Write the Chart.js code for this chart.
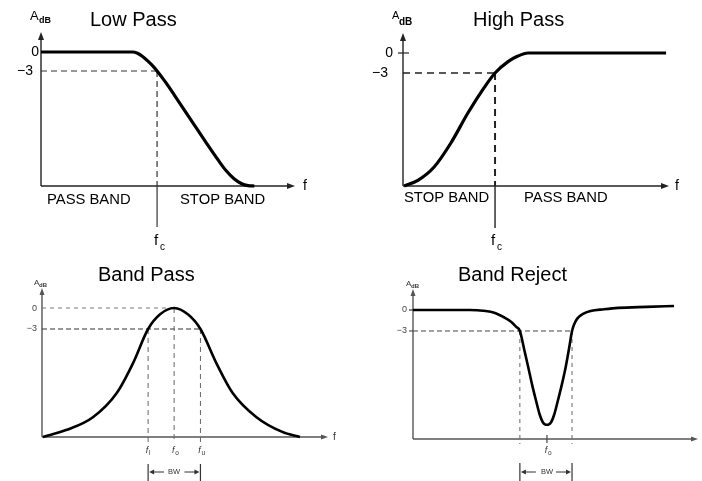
<!DOCTYPE html>
<html>
<head>
<meta charset="utf-8">
<script src="https://cdn.jsdelivr.net/npm/chart.js@4.4.0/dist/chart.umd.min.js"></script>
<style>
  html, body { margin: 0; padding: 0; background: #fff; }
  #wrap { position: relative; width: 702px; height: 481px; overflow: hidden; }
  canvas { position: absolute; }
</style>
</head>
<body>
<div id="wrap">
  <canvas id="lowPass" width="351" height="262" style="left:0;top:0"></canvas>
  <canvas id="highPass" width="351" height="262" style="left:351px;top:0"></canvas>
  <canvas id="bandPass" width="351" height="241" style="left:0;top:240px"></canvas>
  <canvas id="bandReject" width="351" height="241" style="left:351px;top:240px"></canvas>
</div>
<script>
// Dados (frequência em unidades arbitrárias 0..10, ganho em dB)
const lowFreq = [0, 1, 2, 3, 3.6, 3.8, 4.0, 4.2, 4.4, 4.57, 4.8, 5.0, 5.25, 5.5, 5.75, 6.0, 6.5, 7.0, 7.3, 7.6, 7.9, 8.15, 8.4];
const lowGain = [0, 0, 0, 0, 0, -0.2, -0.7, -1.4, -2.2, -3.0, -4.2, -5.3, -6.8, -8.3, -9.8, -11.3, -14.3, -17.2, -18.8, -20.0, -20.8, -21.1, -21.16];

const highFreq = [0.04, 0.56, 1.17, 1.8, 2.44, 3.05, 3.46, 3.95, 4.3, 4.7, 6, 7, 8, 9, 9.89];
const highGain = [-19.95, -19.1, -17.1, -13.5, -9.0, -5.2, -3.0, -1.3, -0.5, 0, 0, 0, 0, 0, 0];

const bpFreq = [0.03, 0.87, 1.78, 2.62, 3.18, 3.71, 4.13, 4.62, 5.1, 5.54, 6.1, 6.66, 7.5, 8.4, 9.02];
const bpGain = [-18.43, -17.4, -15.6, -12.1, -7.9, -3, -0.9, 0, -0.9, -3, -7.9, -12.1, -15.6, -17.7, -18.43];

const brFreq = [0, 1.5, 2.0, 2.46, 2.9, 3.17, 3.45, 3.62, 3.75, 3.9, 4.04, 4.18, 4.32, 4.45, 4.55, 4.63, 4.7,
                4.77, 4.85, 4.95, 5.08, 5.22, 5.36, 5.48, 5.58, 5.66, 5.77, 5.95, 6.23, 6.7, 7.2, 8.2, 9.16];
const brGain = [0, 0, 0, -0.1, -0.45, -1.0, -1.7, -2.4, -3.0, -5.6, -8.1, -10.7, -13.0, -15.0, -16.0, -16.35, -16.4,
                -16.35, -16.0, -15.0, -13.0, -10.7, -8.1, -5.4, -3.0, -2.0, -1.2, -0.6, -0.15, 0.1, 0.3, 0.45, 0.57];

// Frequências de corte / central
const lowCorte = 4.57;
const highCorte = 3.46;
const bpBanda = [3.71, 4.62, 5.54];   // fl, fo, fu
const brBanda = [3.75, 4.7, 5.58];    // fl, fo, fu

const FONTE = '"Liberation Sans", Arial, sans-serif';

function linha(ctx, x1, y1, x2, y2, cor, larg, tracejado) {
    ctx.save();
    ctx.strokeStyle = cor;
    ctx.lineWidth = larg;
    ctx.setLineDash(tracejado || []);
    ctx.beginPath();
    ctx.moveTo(x1, y1);
    ctx.lineTo(x2, y2);
    ctx.stroke();
    ctx.restore();
}

function seta(ctx, x, y, dir, cor, tam, meia) {
    // dir: 'up', 'right', 'left'
    ctx.save();
    ctx.fillStyle = cor;
    ctx.beginPath();
    if (dir === 'up') {
        ctx.moveTo(x, y); ctx.lineTo(x - meia, y + tam); ctx.lineTo(x + meia, y + tam);
    } else if (dir === 'right') {
        ctx.moveTo(x, y); ctx.lineTo(x - tam, y - meia); ctx.lineTo(x - tam, y + meia);
    } else {
        ctx.moveTo(x, y); ctx.lineTo(x + tam, y - meia); ctx.lineTo(x + tam, y + meia);
    }
    ctx.closePath();
    ctx.fill();
    ctx.restore();
}

function texto(ctx, t, x, y, tam, alinh, base, cor, estilo) {
    ctx.save();
    ctx.font = (estilo ? estilo + ' ' : '') + tam + 'px ' + FONTE;
    ctx.fillStyle = cor || '#000';
    ctx.textAlign = alinh || 'left';
    ctx.textBaseline = base || 'alphabetic';
    ctx.fillText(t, x, y);
    ctx.restore();
}

function eixos(ctx, xs, ys, cor, larg, tam, meia) {
    const x0 = xs.getPixelForValue(0), x1 = xs.getPixelForValue(10);
    const yb = ys.getPixelForValue(ys.min), yt = ys.getPixelForValue(ys.max);
    linha(ctx, x0, yb, x0, yt + tam - 1, cor, larg);
    linha(ctx, x0, yb, x1 - tam + 1, yb, cor, larg);
    seta(ctx, x0, yt, 'up', cor, tam, meia);
    seta(ctx, x1, yb, 'right', cor, tam, meia);
    return { x0, x1, yb, yt };
}

function criarGrafico(id, freq, gain, cfg) {
    const pontos = freq.map((f, i) => ({ x: f, y: gain[i] }));
    return new Chart(document.getElementById(id), {
        type: 'line',
        data: {
            datasets: [{
                data: pontos,
                borderColor: '#000',
                borderWidth: cfg.espessura,
                pointRadius: 0,
                cubicInterpolationMode: 'monotone',
                fill: false,
                clip: false
            }]
        },
        options: {
            responsive: false,
            animation: false,
            events: [],
            layout: { padding: cfg.padding },
            plugins: { legend: { display: false }, tooltip: { enabled: false } },
            scales: {
                x: { type: 'linear', display: false, min: 0, max: 10 },
                y: { type: 'linear', display: false, min: cfg.yMin, max: cfg.yMax }
            }
        },
        plugins: [{
            id: 'desenho',
            beforeDatasetsDraw(chart) {
                cfg.desenhar(chart.ctx, chart.scales.x, chart.scales.y);
            }
        }]
    });
}

// Passa-baixa
criarGrafico('lowPass', lowFreq, lowGain, {
    espessura: 3.2,
    padding: { left: 41, top: 32, right: 56, bottom: 76 },
    yMin: -21.16, yMax: 3.16,
    desenhar(ctx, xs, ys) {
        const e = eixos(ctx, xs, ys, '#222', 1.4, 8, 3);
        const fc = xs.getPixelForValue(lowCorte);
        const y3 = ys.getPixelForValue(-3);
        linha(ctx, e.x0, y3, fc, y3, '#333', 1, [6, 4]);
        linha(ctx, fc, y3, fc, e.yb, '#333', 1.2, [6, 4]);
        linha(ctx, fc, e.yb, fc, 227, '#333', 1.2);
        texto(ctx, 'Low Pass', 90, 26, 20);
        texto(ctx, 'A', 30, 20, 13);
        texto(ctx, 'dB', 39, 23, 9, 'left', 'alphabetic', '#000', 'bold');
        texto(ctx, '0', 39, ys.getPixelForValue(0), 14, 'right', 'middle');
        texto(ctx, '\u22123', 33, y3, 14, 'right', 'middle');
        texto(ctx, 'f', fc - 1, 245, 15, 'center');
        texto(ctx, 'c', fc + 3, 250, 10);
        texto(ctx, 'PASS BAND', 47, e.yb + 14, 14.8, 'left', 'middle');
        texto(ctx, 'STOP BAND', 180, e.yb + 14, 14.8, 'left', 'middle');
        texto(ctx, 'f', 303, e.yb, 14, 'left', 'middle');
    }
});

// Passa-alta
criarGrafico('highPass', highFreq, highGain, {
    espessura: 3.2,
    padding: { left: 52, top: 33, right: 33, bottom: 76 },
    yMin: -19.95, yMax: 3.0,
    desenhar(ctx, xs, ys) {
        const e = eixos(ctx, xs, ys, '#222', 1.4, 8, 3);
        const fc = xs.getPixelForValue(highCorte);
        const y0 = ys.getPixelForValue(0);
        const y3 = ys.getPixelForValue(-3);
        linha(ctx, e.x0 - 5, y0, e.x0 + 6, y0, '#222', 1.2);
        linha(ctx, e.x0, y3, fc, y3, '#222', 1.4, [7, 5]);
        linha(ctx, fc, y3, fc, e.yb, '#222', 2, [7, 5]);
        linha(ctx, fc, e.yb, fc, 228, '#222', 1.4);
        texto(ctx, 'High Pass', 122, 26, 20);
        texto(ctx, 'A', 41, 19, 11);
        texto(ctx, 'dB', 48, 25, 10, 'left', 'alphabetic', '#000', 'bold');
        texto(ctx, '0', 42, y0, 14, 'right', 'middle');
        texto(ctx, '\u22123', 37, y3, 14, 'right', 'middle');
        texto(ctx, 'f', fc - 2, 245, 15, 'center');
        texto(ctx, 'c', fc + 2, 250, 10);
        texto(ctx, 'STOP BAND', 53, e.yb + 12, 14.8, 'left', 'middle');
        texto(ctx, 'PASS BAND', 173, e.yb + 12, 14.8, 'left', 'middle');
        texto(ctx, 'f', 324, e.yb, 14, 'left', 'middle');
    }
});

// Passa-faixa
criarGrafico('bandPass', bpFreq, bpGain, {
    espessura: 2.6,
    padding: { left: 42, top: 48, right: 23, bottom: 44 },
    yMin: -18.43, yMax: 2.86,
    desenhar(ctx, xs, ys) {
        const e = eixos(ctx, xs, ys, '#555', 1.4, 7, 2.5);
        const [fl, fo, fu] = bpBanda.map(v => xs.getPixelForValue(v));
        const y0 = ys.getPixelForValue(0);
        const y3 = ys.getPixelForValue(-3);
        linha(ctx, e.x0, y0, fo, y0, '#777', 1, [4, 4]);
        linha(ctx, e.x0, y3, fu, y3, '#333', 1, [5, 3]);
        linha(ctx, fl, y3, fl, e.yb + 7, '#666', 1, [5, 4]);
        linha(ctx, fo, y0, fo, e.yb + 5, '#666', 1, [5, 4]);
        linha(ctx, fu, y3, fu, e.yb + 7, '#666', 1, [5, 4]);
        texto(ctx, 'Band Pass', 98, 41, 20);
        texto(ctx, 'A', 34, 45, 8, 'left', 'alphabetic', '#333');
        texto(ctx, 'dB', 39, 47, 6, 'left', 'alphabetic', '#333', 'bold');
        texto(ctx, '0', 37, y0, 9, 'right', 'middle', '#444');
        texto(ctx, '\u22123', 37, y3, 9, 'right', 'middle', '#444');
        [[fl, 'l'], [fo, 'o'], [fu, 'u']].forEach(([px, s]) => {
            texto(ctx, 'f', px - 1, 213, 9, 'center', 'alphabetic', '#333', 'italic');
            texto(ctx, s, px + 1, 215, 6.5, 'left', 'alphabetic', '#333');
        });
        const yb = 232;
        linha(ctx, fl, 224, fl, 241, '#333', 1.2);
        linha(ctx, fu, 224, fu, 241, '#333', 1.2);
        linha(ctx, fl + 4, yb, fl + 16, yb, '#333', 1);
        seta(ctx, fl + 1, yb, 'left', '#333', 5, 2.5);
        linha(ctx, fu - 16, yb, fu - 4, yb, '#333', 1);
        seta(ctx, fu - 1, yb, 'right', '#333', 5, 2.5);
        texto(ctx, 'BW', fo, yb, 7.5, 'center', 'middle', '#333');
        texto(ctx, 'f', 333, e.yb, 10, 'left', 'middle', '#333');
    }
});

// Rejeita-faixa
criarGrafico('bandReject', brFreq, brGain, {
    espessura: 2.6,
    padding: { left: 62, top: 49, right: 4, bottom: 42 },
    yMin: -18.43, yMax: 3.0,
    desenhar(ctx, xs, ys) {
        const e = eixos(ctx, xs, ys, '#555', 1.4, 7, 2.5);
        const [fl, fo, fu] = brBanda.map(v => xs.getPixelForValue(v));
        const y0 = ys.getPixelForValue(0);
        const y3 = ys.getPixelForValue(-3);
        linha(ctx, e.x0 - 4, y0, e.x0, y0, '#333', 1.2);
        linha(ctx, e.x0 - 4, y3, e.x0, y3, '#333', 1);
        linha(ctx, e.x0, y3, fu, y3, '#444', 1, [5, 3]);
        linha(ctx, fl, y3, fl, e.yb + 5, '#666', 1, [4, 4]);
        linha(ctx, fu, y3, fu, e.yb + 5, '#666', 1, [4, 4]);
        linha(ctx, fo, e.yb - 4, fo, e.yb + 4, '#444', 1.2);
        texto(ctx, 'Band Reject', 107, 41, 20);
        texto(ctx, 'A', 55, 46, 8, 'left', 'alphabetic', '#333');
        texto(ctx, 'dB', 60, 48, 6, 'left', 'alphabetic', '#333', 'bold');
        texto(ctx, '0', 56, y0, 9, 'right', 'middle', '#444');
        texto(ctx, '\u22123', 56, y3, 9, 'right', 'middle', '#444');
        texto(ctx, 'f', fo - 1, 213, 9, 'center', 'alphabetic', '#333', 'italic');
        texto(ctx, 'o', fo + 1, 215, 6.5, 'left', 'alphabetic', '#333');
        const yb = 232;
        linha(ctx, fl, 223, fl, 241, '#333', 1.2);
        linha(ctx, fu, 223, fu, 241, '#333', 1.2);
        linha(ctx, fl + 4, yb, fl + 16, yb, '#333', 1);
        seta(ctx, fl + 1, yb, 'left', '#333', 5, 2.5);
        linha(ctx, fu - 16, yb, fu - 4, yb, '#333', 1);
        seta(ctx, fu - 1, yb, 'right', '#333', 5, 2.5);
        texto(ctx, 'BW', fo, yb, 7.5, 'center', 'middle', '#333');
    }
});
</script>
</body>
</html>
